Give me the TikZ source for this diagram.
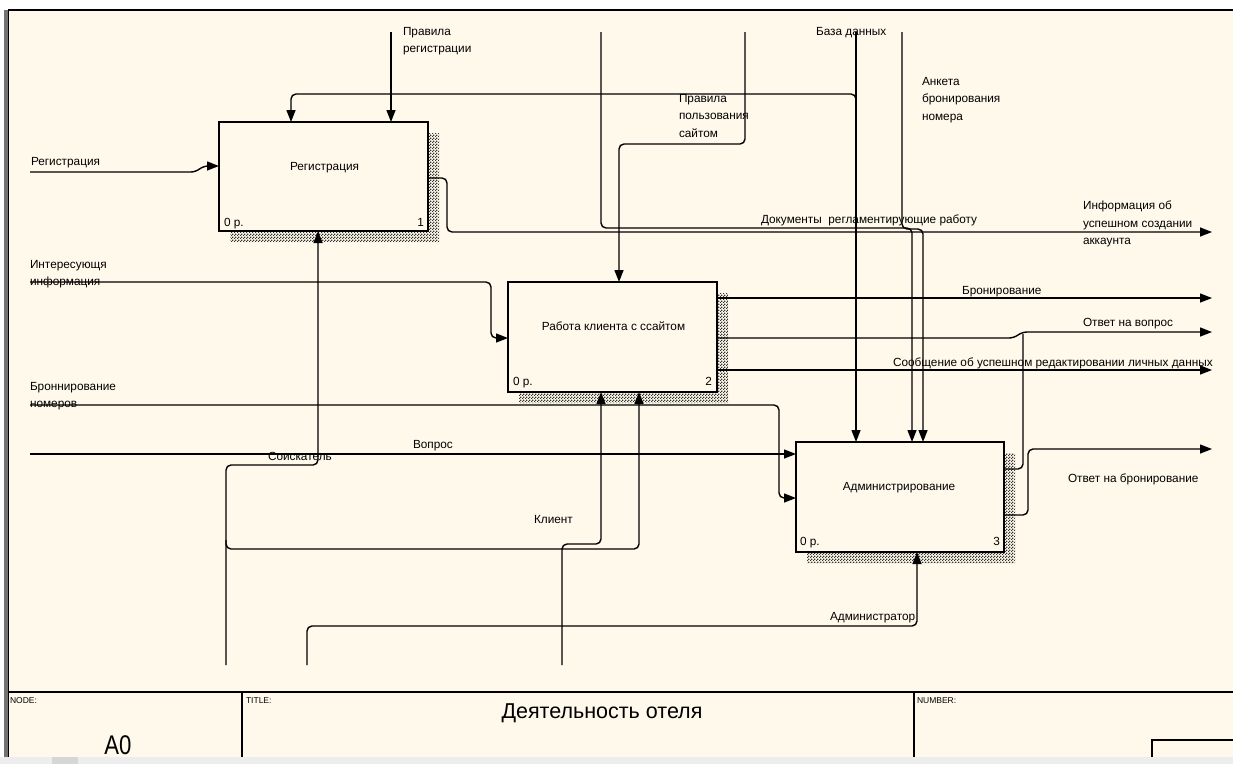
\documentclass[tikz,border=0pt]{standalone}
\usepackage{fontspec}
\setmainfont{Liberation Sans}
\newfontfamily\narrowsans[FakeStretch=0.82]{Liberation Sans}
\usetikzlibrary{calc,patterns,arrows.meta}
\definecolor{paper}{HTML}{FFF9EC}
% fine checkerboard used for the box shadows
\pgfdeclarepatternformonly{idefhatch}{\pgfpointorigin}{\pgfpoint{3pt}{3pt}}{\pgfpoint{3pt}{3pt}}{%
  \pgfpathrectangle{\pgfpointorigin}{\pgfpoint{1.5pt}{1.5pt}}%
  \pgfpathrectangle{\pgfpoint{1.5pt}{1.5pt}}{\pgfpoint{1.5pt}{1.5pt}}%
  \pgfusepath{fill}}
\begin{document}
\begin{tikzpicture}[x=1pt,y=-1pt,
  lbl/.style={inner sep=0pt, outer sep=0pt, font=\fontsize{11.8}{17.5}\selectfont, text=black},
  ml/.style={lbl, align=left, anchor=north west},
  sl/.style={lbl, anchor=mid west},
  cl/.style={lbl, anchor=mid},
  actbox/.style={draw, line width=1.8pt, fill=paper, anchor=north west, inner sep=0pt, outer sep=0pt},
  flow/.style={line width=1.4pt, rounded corners=5pt},
  arr/.style={flow, -{Triangle[length=12pt,width=9pt]}},
  shade/.style={pattern=idefhatch, pattern color=black!80},
  frame/.style={line width=1.4pt}
]
\useasboundingbox (0,0) rectangle (1233,764);

% sheet, borders and bottom strip
\fill[white] (0,0) rectangle (1233,764);
\fill[paper] (9,10) rectangle (1233,757);
\fill[black!7] (0,757) rectangle (1233,764);
\fill[black!16] (52,757) rectangle (78,764);
\fill[black!55] (4,10) rectangle (7.5,757);
\draw[frame] (8.6,10) -- (8.6,757);
\draw[frame] (8,10) -- (1233,10);

% title block
\draw[frame] (9,692) -- (1233,692);
\draw[frame] (242,692) -- (242,757);
\draw[frame] (914,692) -- (914,757);
\draw[frame] (1152,757) -- (1152,740) -- (1233,740);
\node[lbl, anchor=mid west, font=\fontsize{8.5}{10}\selectfont] (tNode) at (10,701) {NODE:};
\node[lbl, anchor=mid west, font=\fontsize{8.5}{10}\selectfont] (tTitle) at (246,701) {TITLE:};
\node[lbl, anchor=mid west, font=\fontsize{8.5}{10}\selectfont] (tNumber) at (917,701) {NUMBER:};
\node[lbl, anchor=center, font=\narrowsans\fontsize{27}{30}\selectfont] (tA0) at (118,745) {A0};
\node[lbl, anchor=center, font=\fontsize{21.5}{24}\selectfont] (tName) at (602,713) {Деятельность отеля};

% activity boxes
\node[actbox, minimum width=209pt, minimum height=109pt] (b1) at (219,122) {};
\node[actbox, minimum width=209pt, minimum height=110pt] (b2) at (508,282) {};
\node[actbox, minimum width=208pt, minimum height=110pt] (b3) at (796,442) {};

% hatched shadows on the right and bottom of each box
\foreach \b in {b1,b2,b3}{
  \fill[shade] ($(\b.north east)+(1,11)$) -- ($(\b.north east)+(11,11)$) -- ($(\b.south east)+(11,11)$)
    -- ($(\b.south west)+(11,11)$) -- ($(\b.south west)+(11,1)$) -- ($(\b.south east)+(1,1)$) -- cycle;
}

% box captions
\node[cl] (n1) at ($(b1.center)+(1,-9)$) {Регистрация};
\node[cl] (n2) at ($(b2.center)+(1,-9)$) {Работа клиента с ссайтом};
\node[cl] (n3) at ($(b3.center)+(-1,-9)$) {Администрирование};
\node[sl] (c1) at ($(b1.south west)+(5,-7)$) {0 р.};
\node[lbl, anchor=mid east] (k1) at ($(b1.south east)+(-4,-7)$) {1};
\node[sl] (c2) at ($(b2.south west)+(5,-9)$) {0 р.};
\node[lbl, anchor=mid east] (k2) at ($(b2.south east)+(-5,-9)$) {2};
\node[sl] (c3) at ($(b3.south west)+(4,-9)$) {0 р.};
\node[lbl, anchor=mid east] (k3) at ($(b3.south east)+(-4,-9)$) {3};

% free ends of the boundary arrows
\coordinate (inReg) at (30,172);
\coordinate (inInfo) at (30,282);
\coordinate (inBook) at (30,405);
\coordinate (inQ) at (30,454);
\coordinate (ctlRules) at (391,32);
\coordinate (ctlDocs) at (601,32);
\coordinate (ctlSite) at (745,32);
\coordinate (ctlDb) at (856,32);
\coordinate (dbTap) at (856,104);
\coordinate (ctlForm) at (902,32);
\coordinate (mSeek) at (226,665);
\coordinate (seekTap) at (226,540);
\coordinate (mAdmin) at (307,665);
\coordinate (mClient) at (562,665);
\coordinate (outAcct) at (1212,232);
\coordinate (outBook) at (1212,298);
\coordinate (outAns) at (1212,332);
\coordinate (outMsg) at (1212,370);
\coordinate (outRes) at (1212,449);

% inputs
\draw[arr] (inReg) -- (196,172) -- (203,166) -- ($(b1.north west)+(0,44)$);
\draw[arr] (inInfo) -- (491,282) -- (491,338) -- ($(b2.north west)+(0,56)$);
\draw[arr] (inBook) -- (779,405) -- (779,498) -- ($(b3.north west)+(0,56)$);
\draw[arr] (inQ) -- ($(b3.north west)+(0,12)$);

% controls
\draw[arr] (ctlRules) -- ($(b1.north west)+(172,0)$);
\draw[arr] (ctlDb) -- ($(b3.north west)+(60,0)$);
\draw[arr] (dbTap) -- (856,94) -- (291,94) -- ($(b1.north west)+(72,0)$);
\draw[arr] (ctlForm) -- (902,229) -- (923,229) -- ($(b3.north west)+(127,0)$);
\draw[arr] (ctlDocs) -- (601,228) -- (912,228) -- ($(b3.north west)+(116,0)$);
\draw[arr] (ctlSite) -- (745,144) -- (619,144) -- ($(b2.north west)+(111,0)$);

% mechanisms
\draw[arr] (mSeek) -- (226,465) -- (318,465) -- ($(b1.south west)+(99,0)$);
\draw[arr] (seekTap) -- (226,549) -- (639,549) -- ($(b2.south west)+(131,0)$);
\draw[arr] (mClient) -- (562,544) -- (601,544) -- ($(b2.south west)+(93,0)$);
\draw[arr] (mAdmin) -- (307,626) -- (917,626) -- ($(b3.south west)+(121,0)$);

% outputs
\draw[arr] ($(b1.north east)+(0,56)$) -- (447,178) -- (447,232) -- (outAcct);
\draw[arr] ($(b2.north east)+(0,16)$) -- (outBook);
\draw[arr] ($(b2.north east)+(0,56)$) -- (1014,338) -- (1022,332) -- (outAns);
\draw[arr] ($(b2.north east)+(0,88)$) -- (outMsg);
\draw[flow] ($(b3.north east)+(0,27)$) -- (1023,469) -- (1023,334);
\draw[arr] ($(b3.north east)+(0,73)$) -- (1028,515) -- (1028,449) -- (outRes);

% arrow labels
\node[sl] (lRegIn) at (31,163) {Регистрация};
\node[ml] (lInfo) at (30,260) {Интересующя\\информация};
\node[ml] (lBook) at (30,382) {Броннирование\\номеров};
\node[sl] (lQ) at (413,446) {Вопрос};
\node[ml] (lRules) at (403,27) {Правила\\регистрации};
\node[sl] (lDb) at (816,33) {База данных};
\node[ml] (lForm) at (922,77) {Анкета\\бронирования\\номера};
\node[ml] (lSite) at (679,94) {Правила\\пользования\\сайтом};
\node[sl] (lDocs) at (761,221) {Документы\ \ регламентирующие работу};
\node[ml] (lAcct) at (1083,201) {Информация об\\успешном создании\\аккаунта};
\node[sl] (lBookOut) at (962,292) {Бронирование};
\node[sl] (lAns) at (1083,324) {Ответ на вопрос};
\node[sl] (lMsg) at (893,364) {Сообщение об успешном редактировании личных данных};
\node[sl] (lRes) at (1068,480) {Ответ на бронирование};
\node[sl] (lSeek) at (268,458) {Соискатель};
\node[sl] (lClient) at (534,521) {Клиент};
\node[sl] (lAdmin) at (830,618) {Администратор};
\end{tikzpicture}
\end{document}
